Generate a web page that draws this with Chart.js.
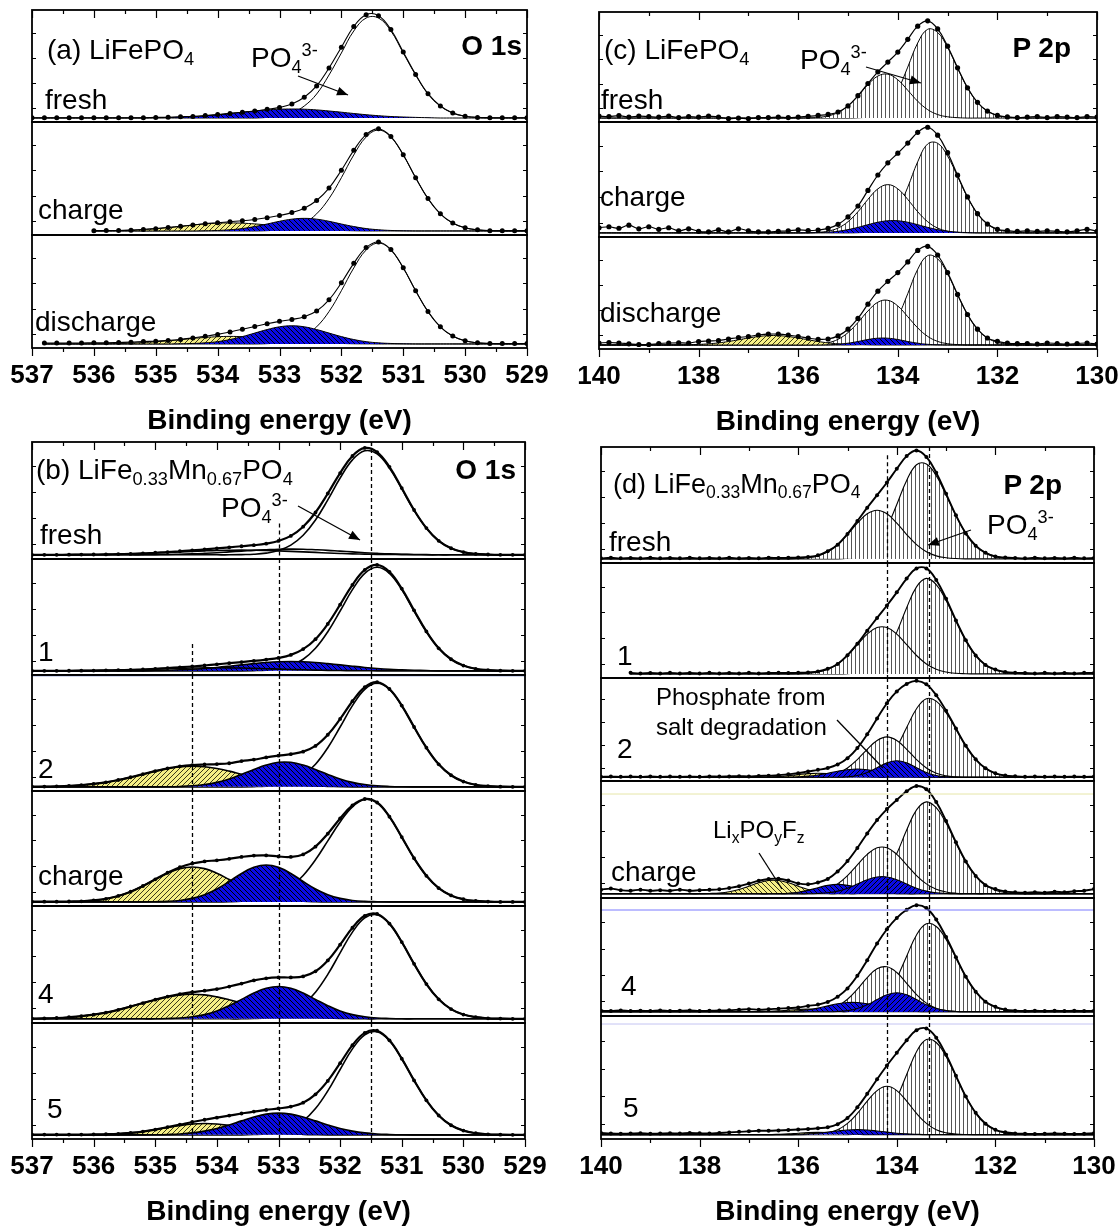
<!DOCTYPE html>
<html>
<head>
<meta charset="utf-8">
<script src="https://cdn.jsdelivr.net/npm/chart.js@4.4.1/dist/chart.umd.min.js"></script>
<style>
  html, body { margin: 0; padding: 0; background: #fff; overflow: hidden; }
  #page { position: relative; width: 1118px; height: 1230px; font-family: "Liberation Sans", Arial, Helvetica, sans-serif; }
  #page canvas { position: absolute; }
  .lbl { position: absolute; white-space: nowrap; color: #000; line-height: 1; z-index: 6; }
  .lbl sub { font-size: .65em; vertical-align: -0.32em; line-height: 0; }
  .lbl sup { font-size: .65em; vertical-align: 0.6em; line-height: 0; }
</style>
</head>
<body>
<div id="page"></div>
<script>
// ---- x grids (binding energy, eV) ----
const oX = [537,536.8,536.6,536.4,536.2,536,535.8,535.6,535.4,535.2,535,534.8,534.6,534.4,534.2,534,533.8,533.6,533.4,533.2,
  533,532.8,532.6,532.4,532.2,532,531.8,531.6,531.4,531.2,531,530.8,530.6,530.4,530.2,530,529.8,529.6,529.4,529.2,529];
const pX = [140,139.8,139.6,139.4,139.2,139,138.8,138.6,138.4,138.2,138,137.8,137.6,137.4,137.2,137,136.8,136.6,136.4,136.2,
  136,135.8,135.6,135.4,135.2,135,134.8,134.6,134.4,134.2,134,133.8,133.6,133.4,133.2,133,132.8,132.6,132.4,132.2,
  132,131.8,131.6,131.4,131.2,131,130.8,130.6,130.4,130.2,130];

// tick values
const oMajor = [529,530,531,532,533,534,535,536,537];
const oMinor = [529.5,530.5,531.5,532.5,533.5,534.5,535.5,536.5];
const pMajor = [130,132,134,136,138,140];
const pMinor = [131,133,135,137,139];
const yTicks = [0.1,0.35,0.6,0.85];

// ---- (a) LiFePO4, O 1s ----
const aFreshEnv = [.003,.003,.003,.003,.003,.003,.003,.003,.003,.003, .006,.008,.012,.016,.024,.034,.046,.058,.07,.087,
  .106,.14,.208,.321,.5,.708,.915,1.033,1.023,.885, .66,.436,.243,.12,.05,.018,.006,.003,.003,.003, .003];
const aFreshMain = [0,0,0,0,0,0,0,0,0,0, 0,0,0,0,0,0,0,0,0,.006, .018,.05,.12,.24,.43,.65,.87,1,1,.87, .65,.43,.24,.12,.05,.018,.006,0,0,0, 0];
const aFreshBlue = [0,0,0,0,0,0,0,0,0,0, .003,.006,.01,.015,.023,.033,.045,.058,.07,.081, .088,.09,.088,.081,.07,.058,.045,.033,.023,.015, .01,.006,.003,0,0,0,0,0,0,0, 0];

const aChargeEnv = [null,null,null,null,null,.003,.004,.005,.008,.015, .023,.034,.046,.059,.072,.082,.092,.101,.114,.131,
  .153,.182,.226,.302,.425,.602,.799,.955,1.012,.936, .755,.528,.321,.17,.078,.031,.011,.003,.003,.003, .003];
const aChargeMain = [null,null,null,null,null,0,0,0,0,0, 0,0,0,0,0,0,0,0,0,.003, .011,.031,.078,.17,.321,.528,.753,.931,1,.931, .753,.528,.321,.17,.078,.031,.011,.003,0,0, 0];
const aChargeBlue = [null,null,null,null,null,0,0,0,0,0, 0,0,0,0,.002,.005,.012,.024,.044,.069, .096,.117,.125,.117,.096,.069,.044,.024,.012,.005, .002,0,0,0,0,0,0,0,0,0, 0];
const aChargeYellow = [null,null,null,null,null,.001,.002,.005,.008,.015, .023,.034,.046,.059,.07,.077,.08,.077,.07,.059, .046,.034,.023,.015,.008,.005,.002,0,0,0, 0,0,0,0,0,0,0,0,0,0, 0];

const aDischEnv = [null,.01,.01,.01,.01,.011,.012,.015,.018,.024, .027,.035,.045,.06,.076,.095,.119,.145,.173,.201,
  .224,.243,.27,.327,.437,.606,.799,.955,1.011,.936, .755,.528,.321,.17,.078,.031,.011,.005,.005,.005, .005];
const aDischMain = [null,0,0,0,0,0,0,0,0,0, 0,0,0,0,0,0,0,0,0,.003, .011,.031,.078,.17,.321,.528,.753,.931,1,.931, .753,.528,.321,.17,.078,.031,.011,.003,0,0, 0];
const aDischBlue = [null,0,0,0,0,0,0,0,0,0, 0,0,.002,.005,.011,.023,.044,.073,.108,.143, .17,.18,.17,.143,.108,.073,.044,.023,.011,.005, .002,0,0,0,0,0,0,0,0,0, 0];
const aDischYellow = [null,0,0,0,0,.001,.002,.005,.008,.014, .022,.032,.043,.055,.065,.072,.075,.072,.065,.055, .043,.032,.022,.014,.008,.005,.002,.001,0,0, 0,0,0,0,0,0,0,0,0,0, 0];

// ---- (b) LiFe0.33Mn0.67PO4, O 1s ----
const bFreshEnv = [0,0,0,.001,.002,.003,.004,.007,.009,.013, .02,.026,.034,.042,.052,.062,.072,.082,.092,.107,
  .133,.181,.269,.405,.587,.783,.946,1.023,.984,.842, .639,.429,.256,.134,.063,.026,.009,.003,0,0, 0];
const bFreshMain = [0,0,0,0,0,0,0,0,0,0, 0,0,0,0,0,0,0,.002,.005,.016, .041,.093,.187,.333,.526,.735,.909,.996,.966,.83, .631,.425,.254,.134,.063,.026,.009,.003,0,0, 0];
const bFreshA = [0,0,0,.001,.002,.003,.004,.007,.009,.013, .018,.023,.028,.033,.038,.042,.044,.045,.044,.042, .038,.033,.028,.023,.018,.013,.009,.007,.004,.003, .002,.001,0,0,0,0,0,0,0,0, 0];
const bFreshB = [0,0,0,0,0,0,0,0,0,0, .002,.003,.006,.009,.014,.02,.028,.035,.043,.049, .054,.055,.054,.049,.043,.035,.028,.02,.014,.009, .006,.003,.002,0,0,0,0,0,0,0, 0];

const b1Env = [0,0,0,.001,.002,.003,.005,.007,.01,.013, .02,.027,.034,.042,.052,.063,.074,.085,.096,.109,
  .125,.154,.21,.306,.453,.639,.831,.975,1.023,.956, .794,.584,.381,.218,.112,.051,.02,.007,.002,0, 0];
const b1Main = [0,0,0,0,0,0,0,0,0,0, 0,0,0,0,0,0,0,0,.002,.007, .02,.051,.112,.218,.378,.578,.784,.941,1,.941, .784,.578,.378,.218,.112,.051,.02,.007,.002,0, 0];
const b1Blue = [0,0,0,0,0,0,0,0,0,0, .003,.006,.01,.015,.023,.033,.045,.058,.07,.081, .088,.09,.088,.081,.07,.058,.045,.033,.023,.015, .01,.006,.003,0,0,0,0,0,0,0, 0];
const b1Small = [0,0,0,.001,.002,.003,.005,.007,.01,.013, .017,.021,.024,.027,.029,.03,.029,.027,.024,.021, .017,.013,.01,.007,.005,.003,.002,.001,0,0, 0,0,0,0,0,0,0,0,0,0, 0];

const b2Env = [.003,.003,.005,.009,.017,.028,.044,.066,.093,.122, .152,.178,.198,.21,.216,.22,.228,.249,.263,.284,
  .301,.316,.34,.395,.503,.656,.827,.963,1.01,.945, .785,.578,.378,.218,.112,.051,.02,.007,.002,0, 0];
const b2Main = [0,0,0,0,0,0,0,0,0,0, 0,0,0,0,0,0,0,0,.002,.007, .02,.051,.112,.218,.378,.578,.784,.941,1,.941, .784,.578,.378,.218,.112,.051,.02,.007,.002,0, 0];
const b2Blue = [0,0,0,0,0,0,0,0,0,0, 0,.001,.004,.01,.022,.043,.076,.12,.168,.211, .237,.237,.211,.168,.12,.076,.043,.022,.01,.004, .001,0,0,0,0,0,0,0,0,0, 0];
const b2Yellow = [0,.002,.005,.009,.017,.028,.044,.066,.093,.122, .152,.177,.194,.2,.194,.177,.152,.122,.093,.066, .044,.028,.017,.009,.005,.002,0,0,0,0, 0,0,0,0,0,0,0,0,0,0, 0];

const bChargeEnv = [.002,.002,.002,.004,.006,.015,.03,.058,.099,.155, .22,.284,.338,.374,.394,.405,.419,.438,.451,.453,
  .442,.438,.462,.538,.664,.813,.94,1.002,.968,.83, .631,.425,.254,.134,.063,.026,.009,.003,0,0, 0];
const bChargeMain = [0,0,0,0,0,0,0,0,0,0, 0,0,0,0,0,0,.002,.006,.015,.035, .075,.146,.257,.41,.594,.779,.926,.997,.966,.83, .631,.425,.254,.134,.063,.026,.009,.003,0,0, 0];
const bChargeBlue = [0,0,0,0,0,0,0,0,0,0, .002,.005,.014,.034,.07,.126,.199,.277,.337,.36, .337,.277,.199,.126,.07,.034,.014,.005,.002,0, 0,0,0,0,0,0,0,0,0,0, 0];
const bChargeYellow = [0,0,0,.002,.006,.015,.03,.058,.099,.155, .218,.279,.324,.34,.324,.279,.218,.155,.099,.058, .03,.015,.006,.002,0,0,0,0,0,0, 0,0,0,0,0,0,0,0,0,0, 0];

const b4Env = [.002,.004,.008,.015,.025,.04,.06,.086,.118,.151, .183,.213,.237,.255,.269,.285,.309,.337,.368,.388,
  .396,.396,.406,.455,.559,.71,.872,.986,1.004,.912, .735,.526,.333,.187,.093,.041,.016,.005,.002,0, 0];
const b4Main = [0,0,0,0,0,0,0,0,0,0, 0,0,0,0,0,0,0,0,.003,.009, .026,.063,.134,.254,.425,.631,.83,.966,.996,.909, .735,.526,.333,.187,.093,.041,.016,.005,.002,0, 0];
const b4Blue = [0,0,0,0,0,0,0,0,0,0, 0,.003,.008,.02,.04,.075,.126,.186,.247,.293, .31,.293,.247,.186,.126,.075,.04,.02,.008,.003, 0,0,0,0,0,0,0,0,0,0, 0];
const b4Yellow = [.002,.004,.008,.015,.025,.04,.06,.086,.118,.151, .183,.21,.229,.235,.229,.21,.183,.151,.118,.086, .06,.04,.025,.015,.008,.004,.002,0,0,0, 0,0,0,0,0,0,0,0,0,0, 0];

const b5Env = [.003,.003,.003,.003,.003,.004,.006,.01,.019,.032, .051,.075,.099,.124,.146,.166,.186,.206,.225,.241,
  .255,.273,.311,.391,.521,.692,.866,.985,1.005,.913, .736,.526,.333,.187,.093,.041,.016,.005,.002,0, 0];
const b5Main = [0,0,0,0,0,0,0,0,0,0, 0,0,0,0,0,0,0,0,.003,.009, .026,.063,.134,.254,.425,.631,.83,.966,.996,.909, .735,.526,.333,.187,.093,.041,.016,.005,.002,0, 0];
const b5Blue = [0,0,0,0,0,0,0,0,0,0, .001,.004,.009,.019,.036,.061,.096,.135,.172,.2, .21,.2,.172,.135,.096,.061,.036,.019,.009,.004, .001,0,0,0,0,0,0,0,0,0, 0];
const b5Yellow = [0,0,0,0,0,.002,.005,.01,.019,.032, .05,.071,.09,.105,.11,.105,.09,.071,.05,.032, .019,.01,.005,.002,0,0,0,0,0,0, 0,0,0,0,0,0,0,0,0,0, 0];

// ---- (c) LiFePO4, P 2p ----
const cFreshEnv = [.02,.015,.025,.01,.02,.015,.01,.02,.005,.015, .01,.02,.01,-.005,0,-.005,.005,.005,.01,.005,
  .01,.017,.027,.037,.062,.124,.228,.352,.471,.57, .672,.802,.936,.99,.908,.732,.512,.308,.16,.071,
  .027,.012,.005,.01,.015,.005,.015,.01,.005,.015, .01];
const cFreshP32 = [0,0,0,0,0,0,0,0,0,0, 0,0,0,0,0,0,0,0,0,0, 0,0,0,0,0,0,.003,.012,.043,.123,
  .282,.519,.765,.904,.872,.719,.508,.308,.16,.071, .027,.009,.003,0,0,0,0,0,0,0, 0];
const cFreshP12 = [0,0,0,0,0,0,0,0,0,0, 0,0,0,0,0,0,0,0,0,0, 0,.002,.007,.022,.057,.124,.225,.34,.428,.447,
  .39,.283,.171,.086,.036,.013,.004,0,0,0, 0,0,0,0,0,0,0,0,0,0, 0];

const cChargeEnv = [.05,.06,.045,.075,.04,.06,.035,.05,.02,.04, .015,.01,.03,.01,.04,.02,.01,.01,.015,.02,
  .03,.022,.028,.044,.083,.156,.262,.414,.564,.682, .776,.875,.979,1.029,.952,.781,.562,.35,.187,.086,
  .035,.022,.014,.02,.015,.02,.015,.01,.02,.035, .015];
const cChargeP32 = [0,0,0,0,0,0,0,0,0,0, 0,0,0,0,0,0,0,0,0,0, 0,0,0,0,0,0,.002,.008,.031,.094,
  .229,.445,.693,.866,.873,.748,.55,.346,.187,.086, .035,.012,.004,0,0,0,0,0,0,0, 0];
const cChargeP12 = [0,0,0,0,0,0,0,0,0,0, 0,0,0,0,0,0,0,0,0,0, 0,.001,.005,.017,.047,.109,.206,.326,.429,.47,
  .429,.326,.206,.109,.047,.017,.005,.001,0,0, 0,0,0,0,0,0,0,0,0,0, 0];
const cChargeBlue = [0,0,0,0,0,0,0,0,0,0, 0,0,0,0,0,0,0,0,0,0, 0,.001,.003,.007,.016,.032,.054,.08,.104,.118,
  .118,.104,.08,.054,.032,.016,.007,.003,0,0, 0,0,0,0,0,0,0,0,0,0, 0];

const cDischEnv = [.02,.025,.02,.012,.005,.005,.015,.02,.022,.02, .035,.04,.045,.06,.075,.085,.1,.109,.109,.1,
  .085,.069,.057,.06,.091,.158,.266,.408,.538,.637, .724,.831,.946,.987,.9,.724,.506,.305,.158,.07,
  .037,.019,.013,.015,.01,.02,.015,.01,.015,.02, .01];
const cDischP32 = [0,0,0,0,0,0,0,0,0,0, 0,0,0,0,0,0,0,0,0,0, 0,0,0,0,0,0,.003,.012,.042,.122,
  .279,.513,.757,.894,.862,.711,.502,.305,.158,.07, .027,.009,.003,0,0,0,0,0,0,0, 0];
const cDischP12 = [0,0,0,0,0,0,0,0,0,0, 0,0,0,0,0,0,0,0,0,0, 0,.002,.007,.022,.057,.124,.225,.34,.428,.447,
  .39,.283,.171,.086,.036,.013,.004,0,0,0, 0,0,0,0,0,0,0,0,0,0, 0];
const cDischBlue = [0,0,0,0,0,0,0,0,0,0, 0,0,0,0,0,0,0,0,0,0, 0,0,0,.002,.007,.018,.035,.055,.068,.068,
  .055,.035,.018,.007,.002,0,0,0,0,0, 0,0,0,0,0,0,0,0,0,0, 0];
const cDischYellow = [0,0,0,0,0,0,0,0,.001,.003, .006,.012,.021,.035,.052,.07,.085,.094,.094,.085,
  .07,.052,.035,.021,.012,.006,.003,.001,0,0, 0,0,0,0,0,0,0,0,0,0, 0,0,0,0,0,0,0,0,0,0, 0];

// ---- (d) LiFe0.33Mn0.67PO4, P 2p ----
const dFreshEnv = [.005,.01,.005,.008,.005,.01,.005,.008,.005,.01, .005,.008,.005,.01,.005,.008,.005,.01,.008,.01,
  .013,.019,.034,.074,.137,.241,.365,.494,.615,.737, .87,.992,1.046,.984,.832,.628,.42,.246,.127,.058,
  .023,.013,.008,.005,.01,.005,.008,.005,.01,.005, .008];
const dFreshP32 = [0,0,0,0,0,0,0,0,0,0, 0,0,0,0,0,0,0,0,0,0, 0,0,0,0,0,.006,.02,.059,.145,.302,
  .525,.757,.909,.915,.803,.617,.417,.246,.127,.058, .023,.008,.003,0,0,0,0,0,0,0, 0];
const dFreshP12 = [0,0,0,0,0,0,0,0,0,0, 0,0,0,0,0,0,0,0,0,0, .003,.011,.029,.069,.137,.235,.345,.435,.47,.435,
  .345,.235,.137,.069,.029,.011,.003,0,0,0, 0,0,0,0,0,0,0,0,0,0, 0];

const d1Env = [null,null,null,.01,.005,.008,.005,.01,.005,.008, .005,.01,.005,.008,.005,.01,.005,.008,.01,.008,
  .01,.014,.023,.05,.097,.182,.294,.421,.545,.666, .794,.928,1.027,1.027,.915,.733,.521,.328,.18,.087,
  .042,.019,.01,.008,.005,.01,.005,.008,.005,.01, .008];
const d1P32 = [null,null,null,0,0,0,0,0,0,0, 0,0,0,0,0,0,0,0,0,0, 0,0,0,0,0,.003,.01,.034,.094,.215,
  .407,.644,.848,.93,.87,.715,.515,.326,.18,.087, .037,.014,.005,0,0,0,0,0,0,0, 0];
const d1P12 = [null,null,null,0,0,0,0,0,0,0, 0,0,0,0,0,0,0,0,0,0, .002,.006,.018,.045,.097,.179,.284,.387,.451,.451,
  .387,.284,.179,.097,.045,.018,.006,.002,0,0, 0,0,0,0,0,0,0,0,0,0, 0];

const d2Env = [.005,.008,.005,.008,.005,.01,.005,.008,.005,.008, .005,.01,.008,.01,.012,.01,.015,.018,.023,.034,
  .045,.064,.081,.101,.14,.208,.318,.467,.64,.806, .934,1.016,1.049,1.011,.893,.725,.53,.342,.196,.098,
  .043,.021,.011,.005,.008,.005,.008,.005,.008,.005, .008];
const d2P32 = [0,0,0,0,0,0,0,0,0,0, 0,0,0,0,0,0,0,0,0,0, 0,0,0,0,0,0,.007,.024,.069,.164,
  .327,.541,.746,.855,.829,.703,.524,.341,.196,.098, .043,.016,.006,0,0,0,0,0,0,0, 0];
const d2P12 = [0,0,0,0,0,0,0,0,0,0, 0,0,0,0,0,0,0,0,0,0, 0,.001,.005,.016,.044,.102,.193,.305,.401,.44,
  .401,.305,.193,.102,.044,.016,.005,.001,0,0, 0,0,0,0,0,0,0,0,0,0, 0];
const d2Blue1 = [0,0,0,0,0,0,0,0,0,0, 0,0,0,0,0,0,0,0,0,0, 0,0,0,0,.001,.006,.02,.052,.104,.157,
  .18,.157,.104,.052,.02,.006,.001,0,0,0, 0,0,0,0,0,0,0,0,0,0, 0];
const d2Blue2 = [0,0,0,0,0,0,0,0,0,0, 0,0,0,0,0,0,0,0,0,.002, .006,.013,.026,.045,.066,.083,.09,.083,.066,.045,
  .026,.013,.006,.002,0,0,0,0,0,0, 0,0,0,0,0,0,0,0,0,0, 0];
const d2Yellow = [0,0,0,0,0,0,0,0,0,0, 0,0,0,0,0,0,0,.003,.008,.017, .029,.04,.045,.04,.029,.017,.008,.003,0,0,
  0,0,0,0,0,0,0,0,0,0, 0,0,0,0,0,0,0,0,0,0, 0];

const dChargeEnv = [.04,.05,.035,.03,.04,.03,.035,.03,.04,.03, .035,.038,.043,.055,.072,.098,.126,.142,.144,.127,
  .1,.091,.109,.143,.214,.313,.439,.578,.706,.811, .899,.981,1.032,1.001,.878,.698,.494,.31,.171,.083,
  .045,.023,.014,.01,.015,.01,.02,.015,.025,.03, .045];
const dChargeP32 = [0,0,0,0,0,0,0,0,0,0, 0,0,0,0,0,0,0,0,0,0, 0,0,0,0,0,.003,.01,.033,.089,.203,
  .385,.61,.803,.88,.824,.677,.488,.308,.171,.083, .035,.013,.004,0,0,0,0,0,0,0, 0];
const dChargeP12 = [0,0,0,0,0,0,0,0,0,0, 0,0,0,0,0,0,0,0,0,0, .002,.006,.018,.044,.095,.175,.278,.378,.441,.441,
  .378,.278,.175,.095,.044,.018,.006,.002,0,0, 0,0,0,0,0,0,0,0,0,0, 0];
const dChargeBlue1 = [0,0,0,0,0,0,0,0,0,0, 0,0,0,0,0,0,0,0,0,0, 0,0,.003,.01,.026,.054,.093,.134,.161,.161,
  .134,.093,.054,.026,.01,.003,0,0,0,0, 0,0,0,0,0,0,0,0,0,0, 0];
const dChargeBlue2 = [0,0,0,0,0,0,0,0,0,0, 0,0,0,0,0,0,0,0,.002,.006, .015,.033,.058,.081,.09,.081,.058,.033,.015,.006,
  .002,0,0,0,0,0,0,0,0,0, 0,0,0,0,0,0,0,0,0,0, 0];
const dChargeYellow = [0,0,0,0,0,0,0,0,0,0, 0,.003,.008,.02,.042,.073,.106,.127,.127,.106, .073,.042,.02,.008,.003,0,0,0,0,0,
  0,0,0,0,0,0,0,0,0,0, 0,0,0,0,0,0,0,0,0,0, 0];

const d4Env = [.01,.008,.012,.008,.01,.008,.012,.008,.01,.012, .008,.01,.012,.015,.02,.025,.02,.024,.03,.035,
  .041,.056,.068,.093,.142,.222,.341,.49,.648,.783, .891,.968,1.012,.984,.875,.71,.518,.333,.191,.096,
  .047,.021,.011,.008,.01,.008,.01,.008,.01,.008, .01];
const d4P32 = [0,0,0,0,0,0,0,0,0,0, 0,0,0,0,0,0,0,0,0,0, 0,0,0,0,0,0,.007,.023,.067,.16,
  .319,.528,.729,.835,.81,.687,.512,.333,.191,.096, .042,.016,.006,0,0,0,0,0,0,0, 0];
const d4P12 = [0,0,0,0,0,0,0,0,0,0, 0,0,0,0,0,0,0,0,0,0, 0,.002,.006,.021,.054,.119,.215,.325,.409,.427,
  .373,.27,.163,.082,.034,.012,.003,0,0,0, 0,0,0,0,0,0,0,0,0,0, 0];
const d4Blue1 = [0,0,0,0,0,0,0,0,0,0, 0,0,0,0,0,0,0,0,0,0, 0,0,0,0,.003,.011,.031,.066,.116,.161,
  .18,.161,.116,.066,.031,.011,.003,0,0,0, 0,0,0,0,0,0,0,0,0,0, 0];
const d4Blue2 = [0,0,0,0,0,0,0,0,0,0, 0,0,0,0,0,0,0,0,.001,.004, .009,.019,.035,.056,.076,.088,.088,.076,.056,.035,
  .019,.009,.004,.001,0,0,0,0,0,0, 0,0,0,0,0,0,0,0,0,0, 0];
const d4Yellow = [0,0,0,0,0,0,0,0,0,0, 0,0,0,0,0,0,0,.004,.009,.016, .022,.025,.022,.016,.009,.004,0,0,0,0,
  0,0,0,0,0,0,0,0,0,0, 0,0,0,0,0,0,0,0,0,0, 0];

const d5Env = [.015,.01,.008,.01,.012,.008,.01,.012,.01,.015, .012,.01,.015,.02,.025,.03,.035,.035,.038,.042,
  .046,.051,.058,.067,.095,.151,.248,.371,.504,.629, .745,.859,.951,.967,.883,.727,.535,.346,.198,.099,
  .044,.021,.011,.008,.005,.008,.01,.008,.005,.008, .012];
const d5P32 = [0,0,0,0,0,0,0,0,0,0, 0,0,0,0,0,0,0,0,0,0, 0,0,0,0,0,0,.007,.024,.07,.166,
  .331,.547,.755,.865,.839,.711,.53,.345,.198,.099, .044,.016,.006,0,0,0,0,0,0,0, 0];
const d5P12 = [0,0,0,0,0,0,0,0,0,0, 0,0,0,0,0,0,0,0,0,0, 0,.001,.005,.016,.044,.102,.193,.305,.401,.44,
  .401,.305,.193,.102,.044,.016,.005,.001,0,0, 0,0,0,0,0,0,0,0,0,0, 0];
const d5Blue = [0,0,0,0,0,0,0,0,0,0, 0,0,0,0,0,0,0,0,0,0, .003,.007,.013,.023,.033,.042,.045,.042,.033,.023,
  .013,.007,.003,0,0,0,0,0,0,0, 0,0,0,0,0,0,0,0,0,0, 0];
const d5Yellow = [0,0,0,0,0,0,0,0,0,0, 0,0,0,0,0,0,0,0,.003,.007, .013,.018,.02,.018,.013,.007,.003,0,0,0,
  0,0,0,0,0,0,0,0,0,0, 0,0,0,0,0,0,0,0,0,0, 0];

// reference (dashed) peak positions
const bDashX = [534.4, 533.0, 531.5];
const bDashSub = [1, 0, 0];
const bDashFrom = [0.26, 0.30, 1.08];
const dDashX = [134.2, 133.35];
const dDashSub = [0, 0];
const dDashFrom = [1.0, 1.08];

// ---------------------------------------------------------------
Chart.defaults.font.family = '"Liberation Sans", Arial, Helvetica, sans-serif';
Chart.defaults.color = '#000';
const page = document.getElementById('page');

// hatch tiles for the fitted components
function makeTile(bg, fg, dir, s, lw) {
  const c = document.createElement('canvas');
  c.width = s; c.height = s;
  const g = c.getContext('2d');
  g.fillStyle = bg; g.fillRect(0, 0, s, s);
  g.strokeStyle = fg; g.lineWidth = lw;
  g.beginPath();
  if (dir === '|') {
    g.moveTo(s / 2 + 0.5, 0); g.lineTo(s / 2 + 0.5, s);
  } else if (dir === '/') {
    g.moveTo(-1, s + 1); g.lineTo(s + 1, -1);
    g.moveTo(-1, 1); g.lineTo(1, -1);
    g.moveTo(s - 1, s + 1); g.lineTo(s + 1, s - 1);
  } else {
    g.moveTo(-1, -1); g.lineTo(s + 1, s + 1);
    g.moveTo(s - 1, -1); g.lineTo(s + 1, 1);
    g.moveTo(-1, s - 1); g.lineTo(1, s + 1);
  }
  g.stroke();
  return c;
}
const BLUE = '#0a0ae6', YELLOW = '#f6ef86';
const tiles = {
  vert: makeTile('#fff', '#555', '|', 4, 1),
  bluB: makeTile(BLUE, '#000', '\\', 5, 1),
  bluF: makeTile(BLUE, '#000', '/', 5, 1),
  yelF: makeTile(YELLOW, '#3a3a1a', '/', 5, 1),
  yelB: makeTile(YELLOW, '#3a3a1a', '\\', 5, 1)
};
const pat = key => ctx => ctx.chart.ctx.createPattern(tiles[key], 'repeat');

// component styles: fill and drawing order (higher order drawn first)
const KIND = {
  main:  { fill: '#fff', order: 6 },
  p32:   { fill: 'vert', order: 6 },
  p12:   { fill: 'vert', order: 5 },
  yelF:  { fill: 'yelF', order: 4 },
  yelB:  { fill: 'yelB', order: 4 },
  bluF2: { fill: 'bluF', order: 3 },
  bluB2: { fill: 'bluB', order: 3 },
  bluB:  { fill: 'bluB', order: 2 },
  bluF:  { fill: 'bluF', order: 2 },
  line:  { fill: null, order: 1 }
};

const panels = [
  { left: 32, right: 527, bounds: [10, 122, 235, 348], xmin: 529, xmax: 537, step: 1,
    xs: oX, major: oMajor, minor: oMinor, envW: 1.1, dotR: 2.5, compW: 1,
    subs: [
      { env: aFreshEnv, parts: [[aFreshMain, 'main'], [aFreshBlue, 'bluB']] },
      { env: aChargeEnv, parts: [[aChargeMain, 'main'], [aChargeYellow, 'yelF'], [aChargeBlue, 'bluB']] },
      { env: aDischEnv, parts: [[aDischMain, 'main'], [aDischYellow, 'yelF'], [aDischBlue, 'bluB']] }
    ] },
  { left: 599, right: 1097, bounds: [12, 122, 237, 349], xmin: 130, xmax: 140, step: 2,
    xs: pX, major: pMajor, minor: pMinor, envW: 1.2, dotR: 2.6, compW: 1,
    subs: [
      { env: cFreshEnv, parts: [[cFreshP32, 'p32'], [cFreshP12, 'p12']] },
      { env: cChargeEnv, parts: [[cChargeP32, 'p32'], [cChargeP12, 'p12'], [cChargeBlue, 'bluB']] },
      { env: cDischEnv, parts: [[cDischP32, 'p32'], [cDischP12, 'p12'], [cDischYellow, 'yelF'], [cDischBlue, 'bluB']] }
    ] },
  { left: 32, right: 525, bounds: [442, 559, 675, 791, 906, 1023, 1139], xmin: 529, xmax: 537, step: 1,
    xs: oX, major: oMajor, minor: oMinor, envW: 2.2, dotR: 1.9, compW: 1.6,
    dashX: bDashX, dashSub: bDashSub, dashFrom: bDashFrom,
    subs: [
      { env: bFreshEnv, parts: [[bFreshMain, 'main'], [bFreshA, 'line'], [bFreshB, 'line']] },
      { env: b1Env, parts: [[b1Main, 'main'], [b1Blue, 'bluB'], [b1Small, 'line']] },
      { env: b2Env, parts: [[b2Main, 'main'], [b2Yellow, 'yelF'], [b2Blue, 'bluB']], extra: [1, '#9fb0e0'] },
      { env: bChargeEnv, parts: [[bChargeMain, 'main'], [bChargeYellow, 'yelF'], [bChargeBlue, 'bluB']] },
      { env: b4Env, parts: [[b4Main, 'main'], [b4Yellow, 'yelF'], [b4Blue, 'bluB']] },
      { env: b5Env, parts: [[b5Main, 'main'], [b5Yellow, 'yelF'], [b5Blue, 'bluB']] }
    ] },
  { left: 601, right: 1094, bounds: [447, 563, 678, 781, 898, 1016, 1139], xmin: 130, xmax: 140, step: 2,
    xs: pX, major: pMajor, minor: pMinor, envW: 1.9, dotR: 2.0, compW: 1.1,
    dashX: dDashX, dashSub: dDashSub, dashFrom: dDashFrom,
    subs: [
      { env: dFreshEnv, parts: [[dFreshP32, 'p32'], [dFreshP12, 'p12']] },
      { env: d1Env, parts: [[d1P32, 'p32'], [d1P12, 'p12']] },
      { env: d2Env, parts: [[d2P32, 'p32'], [d2P12, 'p12'], [d2Yellow, 'yelF'], [d2Blue2, 'bluF2'], [d2Blue1, 'bluB']] },
      { env: dChargeEnv, parts: [[dChargeP32, 'p32'], [dChargeP12, 'p12'], [dChargeYellow, 'yelB'], [dChargeBlue2, 'bluB2'], [dChargeBlue1, 'bluF']], extra: [13, '#e6e6a8'] },
      { env: d4Env, parts: [[d4P32, 'p32'], [d4P12, 'p12'], [d4Yellow, 'yelF'], [d4Blue2, 'bluB2'], [d4Blue1, 'bluF']], extra: [12, '#7a7aff'] },
      { env: d5Env, parts: [[d5P32, 'p32'], [d5P12, 'p12'], [d5Yellow, 'yelF'], [d5Blue, 'bluB']], extra: [8, '#c4c4f2'] }
    ] }
];

// frame, tick marks and dashed guide lines
const framePlugin = {
  id: 'frame',
  afterDatasetsDraw(chart, args, o) {
    const { ctx, chartArea: a } = chart;
    const x = chart.scales.x, y = chart.scales.y;
    ctx.save();
    if (o.extra) {
      ctx.strokeStyle = o.extra[1]; ctx.lineWidth = 1;
      ctx.beginPath(); ctx.moveTo(a.left, a.top + o.extra[0]); ctx.lineTo(a.right, a.top + o.extra[0]); ctx.stroke();
    }
    ctx.strokeStyle = '#000'; ctx.lineWidth = 1.3; ctx.setLineDash([4, 3]);
    (o.dashX || []).forEach((v, i) => {
      if (o.k < o.dashSub[i]) return;
      const px = Math.round(x.getPixelForValue(v)) + 0.5;
      const y0 = o.k === o.dashSub[i] ? Math.max(a.top, y.getPixelForValue(o.dashFrom[i])) : a.top;
      ctx.beginPath(); ctx.moveTo(px, y0); ctx.lineTo(px, a.bottom); ctx.stroke();
    });
    ctx.setLineDash([]);
    ctx.lineWidth = 1.2;
    ctx.beginPath();
    const tk = (vals, len) => vals.forEach(v => {
      const px = Math.round(x.getPixelForValue(v)) + 0.5;
      if (o.top) { ctx.moveTo(px, a.top); ctx.lineTo(px, a.top + len); }
      if (o.bottom) { ctx.moveTo(px, a.bottom); ctx.lineTo(px, a.bottom + len); }
    });
    tk(o.major, 8); tk(o.minor, 4);
    yTicks.forEach(v => {
      const py = Math.round(y.getPixelForValue(v)) + 0.5;
      ctx.moveTo(a.left, py); ctx.lineTo(a.left + 4, py);
      ctx.moveTo(a.right - 4, py); ctx.lineTo(a.right, py);
    });
    ctx.stroke();
    ctx.lineWidth = 1.8;
    ctx.strokeRect(a.left, a.top, a.right - a.left, a.bottom - a.top);
    ctx.restore();
  }
};

const PAD = 40, PT = 4, AXIS_H = 90;

panels.forEach(p => {
  p.subs.forEach((sub, k) => {
    const last = k === p.subs.length - 1;
    const top = p.bounds[k], h = p.bounds[k + 1] - top;
    const PB = last ? 0 : 4;
    const W = p.right - p.left + 2 * PAD;
    const H = PT + h + PB + (last ? AXIS_H : 0);
    const cv = document.createElement('canvas');
    cv.width = W; cv.height = H;
    cv.style.width = W + 'px'; cv.style.height = H + 'px';
    cv.style.left = (p.left - PAD) + 'px'; cv.style.top = (top - PT) + 'px';
    cv.style.zIndex = 1 + k;
    page.appendChild(cv);

    const datasets = sub.parts.map(([arr, kind]) => {
      const st = KIND[kind];
      return {
        data: p.xs.map((x, i) => ({ x, y: arr[i] })),
        borderColor: '#000',
        borderWidth: p.compW,
        backgroundColor: st.fill === null ? 'rgba(0,0,0,0)' : (st.fill[0] === '#' ? st.fill : pat(st.fill)),
        fill: st.fill === null ? false : 'origin',
        pointRadius: 0,
        tension: 0.4,
        order: st.order
      };
    });
    datasets.push({
      data: p.xs.map((x, i) => ({ x, y: sub.env[i] })),
      borderColor: '#000',
      borderWidth: p.envW,
      pointRadius: p.dotR,
      pointBackgroundColor: '#000',
      pointBorderWidth: 0,
      fill: false,
      tension: 0.4,
      order: 0
    });

    new Chart(cv, {
      type: 'line',
      data: { datasets },
      options: {
        responsive: false,
        animation: false,
        devicePixelRatio: 1,
        events: [],
        layout: { padding: { left: PAD, right: PAD, top: PT, bottom: PB } },
        plugins: {
          legend: { display: false },
          tooltip: { enabled: false },
          frame: {
            k, top: k === 0, bottom: last, major: p.major, minor: p.minor, extra: sub.extra,
            dashX: p.dashX, dashSub: p.dashSub, dashFrom: p.dashFrom
          }
        },
        scales: {
          x: {
            type: 'linear', min: p.xmin, max: p.xmax, reverse: true, display: last,
            grid: { display: false, drawTicks: false }, border: { display: false },
            ticks: { stepSize: p.step, autoSkip: false, maxRotation: 0, padding: 12,
                     color: '#000', font: { size: 26, weight: 'bold' } },
            title: { display: true, text: 'Binding energy (eV)', color: '#000', padding: 0,
                     font: { size: 28, weight: 'bold' } },
            afterFit: s => { s.height = last ? AXIS_H : 0; }
          },
          y: { display: false, min: -0.04, max: 1.08 }
        }
      },
      plugins: [framePlugin]
    });
  });
});

// ---- annotations ----
function label(html, x, cy, o = {}) {
  const d = document.createElement('div');
  d.className = 'lbl';
  d.innerHTML = html;
  d.style.fontSize = (o.size || 28) + 'px';
  if (o.bold) d.style.fontWeight = 'bold';
  d.style.top = cy + 'px';
  d.style.transform = 'translateY(-50%)';
  if (o.right) d.style.right = (1118 - x) + 'px'; else d.style.left = x + 'px';
  page.appendChild(d);
}
const PO4 = 'PO<sub>4</sub><sup>3-</sup>';
const LFMP = 'LiFe<sub>0.33</sub>Mn<sub>0.67</sub>PO<sub>4</sub>';

label('(a) LiFePO<sub>4</sub>', 47, 50);
label(PO4, 251, 58);
label('O 1s', 522, 46, { bold: true, right: true });
label('fresh', 45, 100);
label('charge', 38, 210);
label('discharge', 35, 322);

label('(c) LiFePO<sub>4</sub>', 604, 50);
label(PO4, 800, 60);
label('P 2p', 1071, 48, { bold: true, right: true });
label('fresh', 601, 100);
label('charge', 600, 197);
label('discharge', 600, 313);

label('(b) ' + LFMP, 36, 470);
label(PO4, 221, 508);
label('O 1s', 516, 470, { bold: true, right: true });
label('fresh', 40, 535);
label('1', 38, 652);
label('2', 38, 769);
label('charge', 38, 876);
label('4', 38, 994);
label('5', 47, 1109);

label('(d) ' + LFMP, 613, 484, { size: 27 });
label('P 2p', 1062, 485, { bold: true, right: true });
label(PO4, 987, 525);
label('fresh', 609, 542);
label('1', 617, 656);
label('2', 617, 749);
label('Phosphate from', 656, 697, { size: 24 });
label('salt degradation', 656, 727, { size: 24 });
label('Li<sub>x</sub>PO<sub>y</sub>F<sub>z</sub>', 713, 830, { size: 24 });
label('charge', 611, 872);
label('4', 621, 986);
label('5', 623, 1108);

// arrows / leader lines
const ov = document.createElement('canvas');
ov.width = 1118; ov.height = 1230;
ov.style.left = '0px'; ov.style.top = '0px'; ov.style.zIndex = 5;
page.appendChild(ov);
const g = ov.getContext('2d');
g.strokeStyle = '#000'; g.fillStyle = '#000'; g.lineWidth = 1.3;
function arrow(x1, y1, x2, y2, head) {
  g.beginPath(); g.moveTo(x1, y1); g.lineTo(x2, y2); g.stroke();
  if (!head) return;
  const ang = Math.atan2(y2 - y1, x2 - x1), L = 11, Wd = 4.5;
  g.beginPath();
  g.moveTo(x2, y2);
  g.lineTo(x2 - L * Math.cos(ang) + Wd * Math.sin(ang), y2 - L * Math.sin(ang) - Wd * Math.cos(ang));
  g.lineTo(x2 - L * Math.cos(ang) - Wd * Math.sin(ang), y2 - L * Math.sin(ang) + Wd * Math.cos(ang));
  g.closePath(); g.fill();
}
arrow(298, 76, 348, 95, true);
arrow(866, 67, 921, 83, true);
arrow(298, 506, 360, 540, true);
arrow(971, 530, 928, 545, true);
arrow(837, 720, 883, 768, false);
arrow(759, 853, 782, 889, false);
</script>
</body>
</html>
